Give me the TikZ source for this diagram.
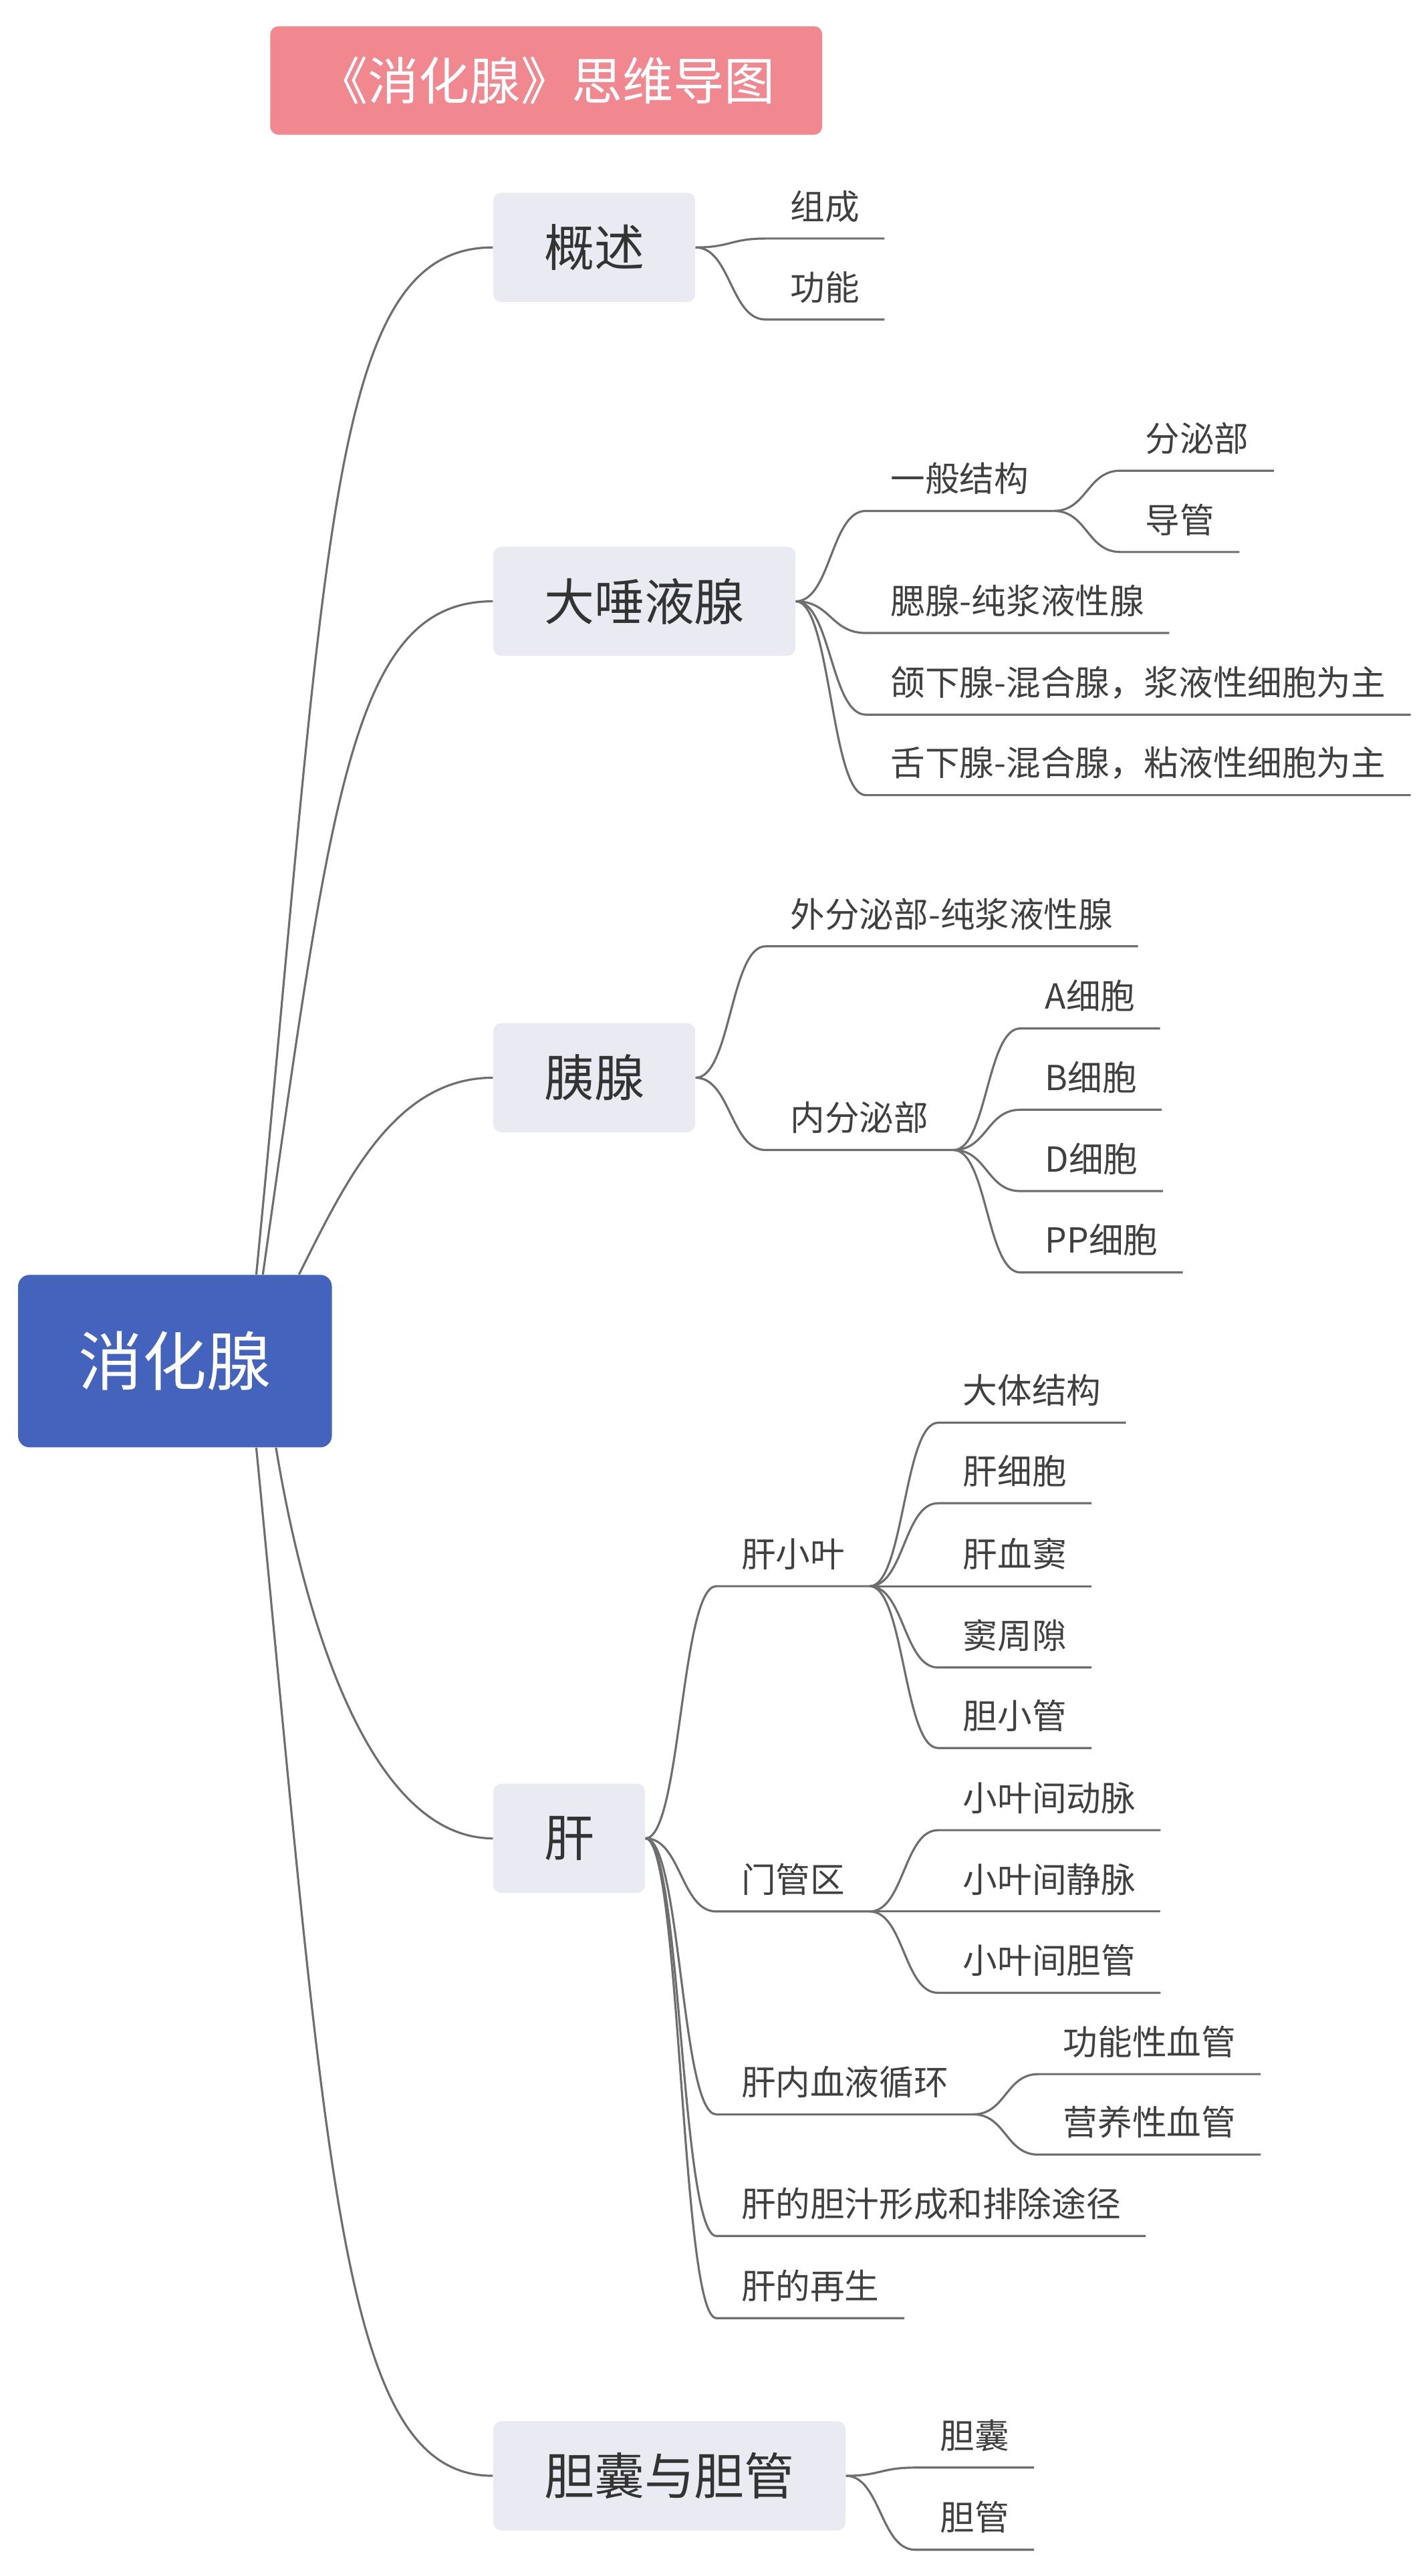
\documentclass[tikz,border=0pt]{standalone}
\usepackage{fontspec}
\usepackage{xcolor}
\usepackage{tikz}
\usetikzlibrary{calc}
\newfontfamily\cjk{Noto Sans CJK SC}
\definecolor{titlepink}{HTML}{F1878F}
\definecolor{rootblue}{HTML}{4463BD}
\definecolor{topicgray}{HTML}{EAEBF2}
\definecolor{linegray}{HTML}{6E6E6E}
\definecolor{textdark}{HTML}{333333}
\definecolor{textleaf}{HTML}{404040}
\tikzset{
  title/.style={fill=titlepink,rounded corners=5pt,minimum width=336pt,minimum height=66pt,text=white,font=\cjk\fontsize{31pt}{35pt}\selectfont},
  root/.style={fill=rootblue,rounded corners=7pt,minimum width=191pt,minimum height=105pt,text=white,font=\cjk\fontsize{39pt}{44pt}\selectfont},
  topic/.style={anchor=west,fill=topicgray,rounded corners=5pt,inner xsep=31pt,minimum height=66.5pt,text=textdark,font=\cjk\fontsize{30.5pt}{35pt}\selectfont},
  sub/.style={anchor=south west,inner xsep=15pt,inner ysep=11.5pt,text depth=0pt,text=textleaf,font=\cjk\fontsize{21pt}{25pt}\selectfont},
  stem/.style={draw=linegray,line width=1.3pt},
  twig/.style={to path={let \p1=(\tikztostart),\p2=(\tikztotarget) in .. controls ({(\x1+\x2)/2},\y1) and ({(\x1+\x2)/2},\y2) .. (\tikztotarget)}}
}
\begin{document}
\begin{tikzpicture}[x=1pt,y=-1pt]
  \useasboundingbox (0,0) rectangle (865.8,1568);
  \node[title] (bt) at (332.5,49) {《消化腺》思维导图};%标题
  \node[root] (xhx) at (106.5,828.5) {消化腺};%中心
  \node[topic] (gs) at (300,150.6) {概述};
  \node[topic] (dty) at (300,366) {大唾液腺};
  \node[topic] (yx) at (300,656) {胰腺};
  \node[topic] (gan) at (300,1119) {肝};
  \node[topic] (dn) at (300,1507) {胆囊与胆管};
  %主干
  \draw[stem] ([xshift=49.5pt]xhx.north) .. controls +(44,-450) and +(-100,0) .. (gs.west);
  \draw[stem] ([xshift=53.5pt]xhx.north) .. controls +(42,-295) and +(-85,0) .. (dty.west);
  \draw[stem] ([xshift=75.5pt]xhx.north) .. controls +(28,-56) and +(-60,0) .. (yx.west);
  \draw[stem] ([xshift=61.5pt]xhx.south) .. controls +(20,121) and +(-70,0) .. (gan.west);
  \draw[stem] ([xshift=49.5pt]xhx.south) .. controls +(44,451) and +(-92,0) .. (dn.west);
  %概述
  \node[sub] (zc) at (466,145.2) {组成};
  \node[sub] (gn) at (466,194.5) {功能};
  \foreach \k in {zc,gn}
    \draw[stem] (gs.east) to[twig] (\k.south west) -- (\k.south east);
  %大唾液腺
  \node[sub] (ybjg) at (527,311) {一般结构};
  \node[sub] (fmb) at (682,286.5) {分泌部};
  \node[sub] (dg) at (682,336) {导管};
  \node[sub] (sx) at (527,385.3) {腮腺-纯浆液性腺};
  \node[sub] (hxx) at (527,435) {颌下腺-混合腺，浆液性细胞为主};
  \node[sub] (shx) at (527,484) {舌下腺-混合腺，粘液性细胞为主};
  \foreach \k in {ybjg,sx,hxx,shx}
    \draw[stem] (dty.east) to[twig] (\k.south west) -- (\k.south east);
  \foreach \k in {fmb,dg}
    \draw[stem] (ybjg.south east) to[twig] (\k.south west) -- (\k.south east);
  %胰腺
  \node[sub] (wfm) at (466,576) {外分泌部-纯浆液性腺};
  \node[sub] (nfm) at (466,700) {内分泌部};
  \foreach \k in {wfm,nfm}
    \draw[stem] (yx.east) to[twig] (\k.south west) -- (\k.south east);
  \foreach \t/\y [count=\i] in {A细胞/626,B细胞/675.5,D细胞/725,PP细胞/774.5}{
    \node[sub] (xb\i) at (621,\y) {\t};
    \draw[stem] (nfm.south east) to[twig] (xb\i.south west) -- (xb\i.south east);
  }
  %肝
  \node[sub] (gxy) at (436,965.5) {肝小叶};
  \node[sub] (mgq) at (436,1163.5) {门管区};
  \node[sub] (xyxh) at (436,1287) {肝内血液循环};
  \node[sub] (dz) at (436,1361) {肝的胆汁形成和排除途径};
  \node[sub] (zs) at (436,1411) {肝的再生};
  \foreach \k in {gxy,mgq,xyxh,dz,zs}
    \draw[stem] (gan.east) to[twig] (\k.south west) -- (\k.south east);
  \foreach \t/\y [count=\i] in {大体结构/866,肝细胞/915,肝血窦/965.5,窦周隙/1015,胆小管/1064}{
    \node[sub] (xy\i) at (571,\y) {\t};
    \draw[stem] (gxy.south east) to[twig] (xy\i.south west) -- (xy\i.south east);
  }
  \foreach \t/\y [count=\i] in {小叶间动脉/1114,小叶间静脉/1163.5,小叶间胆管/1213}{
    \node[sub] (mg\i) at (571,\y) {\t};
    \draw[stem] (mgq.south east) to[twig] (mg\i.south west) -- (mg\i.south east);
  }
  \foreach \t/\y [count=\i] in {功能性血管/1262.5,营养性血管/1311.5}{
    \node[sub] (xg\i) at (632,\y) {\t};
    \draw[stem] (xyxh.south east) to[twig] (xg\i.south west) -- (xg\i.south east);
  }
  %胆囊与胆管
  \node[sub] (dnang) at (557,1502) {胆囊};
  \node[sub] (dguan) at (557,1552) {胆管};
  \foreach \k in {dnang,dguan}
    \draw[stem] (dn.east) to[twig] (\k.south west) -- (\k.south east);
\end{tikzpicture}
\end{document}
